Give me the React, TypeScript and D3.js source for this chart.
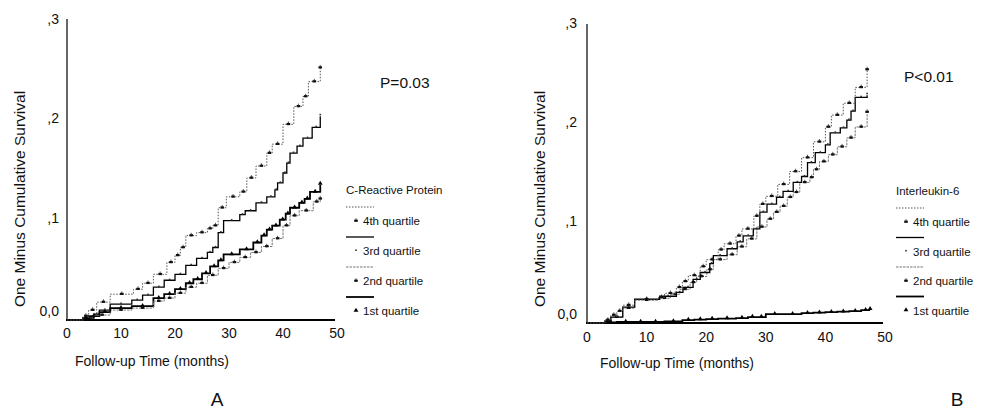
import React from 'react';
import * as d3 from 'd3';

// ---------- Tick labels ----------
const xTicks = [0, 10, 20, 30, 40, 50];
const yTicks = [0, 0.1, 0.2, 0.3];
const yTickLabels = ['0,0', ',1', ',2', ',3'];
const quartileLabels = ['4th quartile', '3rd quartile', '2nd quartile', '1st quartile'];

// ---------- Panel A : C-Reactive Protein ----------
const crp4Months = [0, 3, 4, 5.5, 8, 12.3, 14, 16, 18.5, 20, 21, 22, 24, 26, 27, 28, 29.5, 32, 33.3, 35, 37, 38, 40, 42, 43.7, 44.7, 46.9];
const crp4Risk = [0, 0.004, 0.01, 0.018, 0.026, 0.031, 0.037, 0.046, 0.058, 0.065, 0.073, 0.085, 0.088, 0.092, 0.095, 0.113, 0.124, 0.129, 0.143, 0.155, 0.168, 0.177, 0.197, 0.215, 0.225, 0.24, 0.253];

const crp3Months = [0, 3, 5, 6, 8, 12, 14, 16, 18, 20, 22, 24, 26, 27, 28, 29, 32, 33, 35, 37, 38.5, 39, 40, 40.7, 41.3, 42.6, 43.7, 45.4, 46.9];
const crp3Risk = [0, 0.002, 0.006, 0.01, 0.016, 0.02, 0.025, 0.033, 0.04, 0.046, 0.055, 0.062, 0.068, 0.073, 0.088, 0.1, 0.106, 0.11, 0.118, 0.124, 0.131, 0.138, 0.148, 0.158, 0.168, 0.175, 0.183, 0.194, 0.205];

const crp2Months = [0, 3, 5, 8, 12, 16, 18, 20, 22, 24, 26, 28, 30, 32, 34, 36, 38, 40, 41.3, 43, 45.6, 46.9];
const crp2Risk = [0, 0.002, 0.005, 0.01, 0.012, 0.019, 0.022, 0.027, 0.033, 0.037, 0.045, 0.052, 0.058, 0.063, 0.068, 0.074, 0.082, 0.095, 0.105, 0.11, 0.119, 0.121];

const crp1Months = [0, 3, 4, 6, 8, 12, 16, 18, 20, 22, 23.4, 25, 26.5, 28, 29, 32, 34.5, 36, 37, 38, 39.4, 40.5, 41.3, 43, 44, 45, 46.9];
const crp1Risk = [0, 0.002, 0.004, 0.008, 0.012, 0.014, 0.022, 0.026, 0.031, 0.037, 0.041, 0.047, 0.054, 0.06, 0.066, 0.071, 0.078, 0.085, 0.091, 0.095, 0.101, 0.107, 0.113, 0.118, 0.122, 0.129, 0.136];

// ---------- Panel B : Interleukin-6 ----------
const il4Months = [0, 3, 4, 5, 6, 8, 12, 13, 15, 16, 17, 19, 20, 22, 23, 25, 26, 28, 29, 30, 32, 34, 36, 38, 40, 41, 43, 45, 47];
const il4Risk = [0, 0.003, 0.008, 0.012, 0.018, 0.024, 0.026, 0.03, 0.036, 0.042, 0.048, 0.057, 0.064, 0.074, 0.08, 0.088, 0.095, 0.108, 0.12, 0.128, 0.14, 0.153, 0.167, 0.183, 0.198, 0.21, 0.222, 0.238, 0.255];

const il3Months = [0, 3, 4, 6, 8, 12.2, 15, 16.1, 17.8, 19, 20.6, 21.2, 23.5, 25.2, 26.2, 27.9, 29, 30.2, 31.8, 32.9, 34.6, 36, 37, 38.3, 40, 40.8, 42.5, 43.6, 44.3, 45, 47];
const il3Risk = [0, 0.002, 0.006, 0.016, 0.024, 0.027, 0.031, 0.036, 0.044, 0.051, 0.06, 0.068, 0.075, 0.082, 0.088, 0.095, 0.112, 0.12, 0.127, 0.133, 0.142, 0.148, 0.162, 0.172, 0.18, 0.192, 0.197, 0.205, 0.214, 0.228, 0.23];

const il2Months = [0, 3, 4, 6, 8, 12, 14, 15.6, 17.3, 18.4, 20.1, 21.2, 23.5, 25.2, 26.8, 28.5, 30.2, 31.3, 32.4, 33.6, 34.6, 35.7, 37.4, 38, 39, 40.5, 42, 43.6, 45, 47];
const il2Risk = [0, 0.002, 0.006, 0.015, 0.023, 0.025, 0.029, 0.034, 0.041, 0.047, 0.054, 0.064, 0.069, 0.077, 0.085, 0.097, 0.105, 0.112, 0.118, 0.127, 0.132, 0.142, 0.147, 0.155, 0.163, 0.17, 0.178, 0.187, 0.198, 0.212];

const il1Months = [0, 3, 5, 8, 10, 13, 16, 18, 20, 22, 25, 27, 28.5, 30, 33, 36, 38, 40, 42, 44, 46, 47.5];
const il1Risk = [0, 0.0005, 0.001, 0.001, 0.001, 0.0015, 0.003, 0.0035, 0.004, 0.0045, 0.005, 0.006, 0.006, 0.009, 0.009, 0.01, 0.0105, 0.011, 0.0115, 0.012, 0.013, 0.013];

type Style = { stroke: string; width: number; dash?: string; marker: 'star' | 'dot' | 'tri' };
const q4Style: Style = { stroke: '#555', width: 1, dash: '1.5,1.5', marker: 'star' };
const q3Style: Style = { stroke: '#000', width: 1.3, marker: 'dot' };
const q2Style: Style = { stroke: '#777', width: 1, dash: '2.5,1', marker: 'star' };
const q1Style: Style = { stroke: '#000', width: 1.8, marker: 'tri' };
const styles = [q4Style, q3Style, q2Style, q1Style];

const FONT = "'Liberation Sans', Arial, Helvetica, sans-serif";

type Series = { months: number[]; risk: number[] };

function Marker({ kind, x, y }: { kind: string; x: number; y: number }) {
  if (kind === 'star') {
    return (
      <g>
        <rect x={x - 1.8} y={y - 1.4} width={3.6} height={2.2} fill="#111" />
        <line x1={x} x2={x} y1={y - 2.8} y2={y + 0.8} stroke="#111" strokeWidth={0.7} />
      </g>
    );
  }
  if (kind === 'tri') {
    return <path d={`M${x},${y - 3.2}L${x + 2.4},${y + 0.8}L${x - 2.4},${y + 0.8}Z`} fill="#000" />;
  }
  return <rect x={x - 0.8} y={y - 1.6} width={1.6} height={1.6} fill="#333" />;
}

function Panel(props: {
  series: Series[];
  xRange: [number, number];
  yRange: [number, number];
  yAxisTop: number;
  tickLabelY: number;
  yLabelX: number;
  yTitleX: number;
  yTitleY: number;
  xTitleX: number;
  xTitleY: number;
  letter: string;
  letterX: number;
  pText: string;
  pX: number;
  pY: number;
  legendTitle: string;
  legendX: number;
  legendY: number;
  legendGap: number;
}) {
  const x = d3.scaleLinear().domain([0, 50]).range(props.xRange);
  const y = d3.scaleLinear().domain([0, 0.3]).range(props.yRange);
  const line = d3
    .line<[number, number]>()
    .x((d) => x(d[0]))
    .y((d) => y(d[1]))
    .curve(d3.curveStepAfter);
  const base = y(0);
  const order = [3, 2, 1, 0];
  return (
    <g>
      {/* axes */}
      <line x1={x(0)} x2={x(0)} y1={props.yAxisTop} y2={base + 1} stroke="#000" strokeWidth={1.2} />
      <line x1={x(0) - 1} x2={x(50) - 2} y1={base} y2={base} stroke="#000" strokeWidth={2} />
      {xTicks.map((t) => (
        <text key={t} x={x(t)} y={props.tickLabelY} textAnchor="middle" fontSize={14} fontFamily={FONT} fill="#111">
          {t}
        </text>
      ))}
      {yTicks.map((t, i) => (
        <text
          key={t}
          x={props.yLabelX}
          y={y(t) + 2 - (t === 0 ? 6 : 0)}
          textAnchor="end"
          fontSize={14}
          fontFamily={FONT}
          fill="#111"
        >
          {yTickLabels[i]}
        </text>
      ))}
      {/* curves */}
      {order.map((si) => {
        const s = props.series[si];
        const st = styles[si];
        const pts = s.months.map((m, i) => [m, s.risk[i]] as [number, number]);
        return (
          <g key={si}>
            <path d={line(pts) || ''} fill="none" stroke={st.stroke} strokeWidth={st.width} strokeDasharray={st.dash} />
            {pts.slice(1).map((p, i) => {
              const next = pts[i + 2];
              const mx = next ? (x(p[0]) + x(next[0])) / 2 : x(p[0]);
              const my = next ? y(p[1]) : y(p[1]) - 1;
              return <Marker key={i} kind={st.marker} x={mx} y={my} />;
            })}
          </g>
        );
      })}
      {/* titles */}
      <text
        transform={`translate(${props.yTitleX},${props.yTitleY}) rotate(-90)`}
        textAnchor="middle"
        fontSize={15.5}
        fontFamily={FONT}
        fill="#111"
      >
        One Minus Cumulative Survival
      </text>
      <text x={props.xTitleX} y={props.xTitleY} textAnchor="middle" fontSize={14} fontFamily={FONT} fill="#111">
        Follow-up Time (months)
      </text>
      <text x={props.letterX} y={406} textAnchor="middle" fontSize={19} fontFamily={FONT} fill="#111">
        {props.letter}
      </text>
      <text x={props.pX} y={props.pY} fontSize={15.5} fontFamily={FONT} fill="#111">
        {props.pText}
      </text>
      {/* legend */}
      <text x={props.legendX} y={props.legendY} fontSize={11.5} fontFamily={FONT} fill="#111">
        {props.legendTitle}
      </text>
      {quartileLabels.map((lab, i) => {
        const st = styles[i];
        const ly = props.legendY + 13 + i * props.legendGap;
        const ty = ly + 18;
        return (
          <g key={lab}>
            <line
              x1={props.legendX}
              x2={props.legendX + 28}
              y1={ly}
              y2={ly}
              stroke={st.stroke}
              strokeWidth={st.width}
              strokeDasharray={st.dash}
            />
            <Marker kind={st.marker} x={props.legendX + 10} y={ty - 4} />
            <text x={props.legendX + 17} y={ty} fontSize={11.5} fontFamily={FONT} fill="#111">
              {lab}
            </text>
          </g>
        );
      })}
    </g>
  );
}

export default function App() {
  const seriesA: Series[] = [
    { months: crp4Months, risk: crp4Risk },
    { months: crp3Months, risk: crp3Risk },
    { months: crp2Months, risk: crp2Risk },
    { months: crp1Months, risk: crp1Risk },
  ];
  const seriesB: Series[] = [
    { months: il4Months, risk: il4Risk },
    { months: il3Months, risk: il3Risk },
    { months: il2Months, risk: il2Risk },
    { months: il1Months, risk: il1Risk },
  ];
  return (
    <svg
      width={984}
      height={417}
      style={{ position: 'absolute', left: 0, top: 0, background: '#fff' }}
    >
      <rect width={984} height={417} fill="#fff" />
      <Panel
        series={seriesA}
        xRange={[67, 337]}
        yRange={[320, 22]}
        yAxisTop={19}
        tickLabelY={338}
        yLabelX={59}
        yTitleX={25}
        yTitleY={199}
        xTitleX={152}
        xTitleY={366}
        letter="A"
        letterX={217}
        pText="P=0.03"
        pX={380}
        pY={88}
        legendTitle="C-Reactive Protein"
        legendX={346}
        legendY={194}
        legendGap={30}
      />
      <Panel
        series={seriesB}
        xRange={[587, 885]}
        yRange={[323, 26]}
        yAxisTop={24}
        tickLabelY={342}
        yLabelX={577}
        yTitleX={545}
        yTitleY={199}
        xTitleX={677}
        xTitleY={368}
        letter="B"
        letterX={957}
        pText="P<0.01"
        pX={904}
        pY={82}
        legendTitle="Interleukin-6"
        legendX={896}
        legendY={195}
        legendGap={29.5}
      />
    </svg>
  );
}
